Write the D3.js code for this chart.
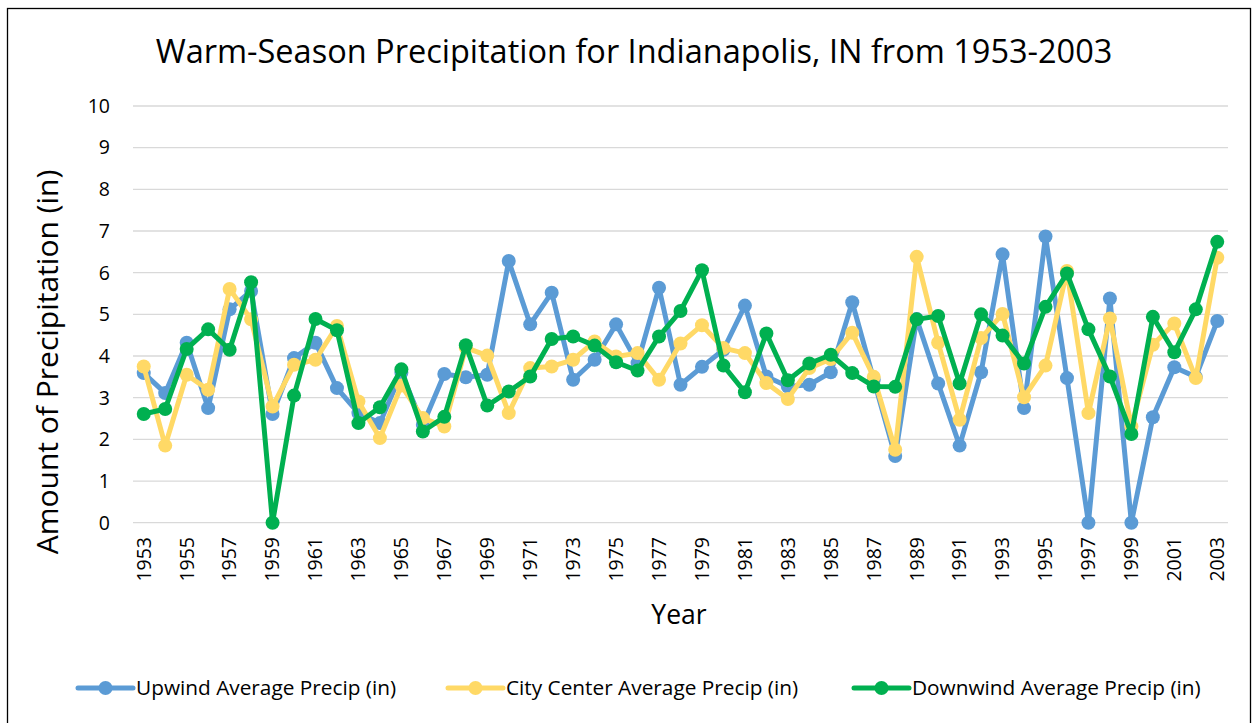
<!DOCTYPE html>
<html>
<head>
<meta charset="utf-8">
<script src="https://cdn.jsdelivr.net/npm/d3@7"></script>
<style>
  body { margin: 0; background: #fff; }
  svg { font-family: "Open Sans", "Noto Sans", sans-serif; }
</style>
</head>
<body>
<svg id="chart" width="1253" height="723"></svg>
<script>
const years = d3.range(1953, 2004);
const upwind = [3.59, 3.11, 4.32, 2.75, 5.12, 5.56, 2.61, 3.95, 4.32, 3.23,
  2.63, 2.39, 3.60, 2.35, 3.57, 3.49, 3.55, 6.28, 4.76, 5.52,
  3.43, 3.91, 4.76, 3.83, 5.64, 3.31, 3.74, 4.15, 5.21, 3.51,
  3.27, 3.31, 3.61, 5.29, 3.43, 1.60, 4.89, 3.34, 1.85, 3.61,
  6.44, 2.75, 6.87, 3.47, 0.00, 5.38, 0.00, 2.53, 3.73, 3.50, 4.84];
const cityCenter = [3.75, 1.85, 3.55, 3.19, 5.61, 4.88, 2.79, 3.79, 3.91, 4.72,
  2.91, 2.03, 3.29, 2.51, 2.31, 4.20, 4.01, 2.63, 3.71, 3.75,
  3.91, 4.35, 3.99, 4.07, 3.43, 4.30, 4.74, 4.19, 4.07, 3.35,
  2.97, 3.71, 3.93, 4.56, 3.50, 1.75, 6.38, 4.32, 2.47, 4.43,
  5.01, 3.01, 3.77, 6.04, 2.63, 4.90, 2.31, 4.27, 4.78, 3.47, 6.36];
const downwind = [2.61, 2.73, 4.17, 4.64, 4.15, 5.77, 0.00, 3.05, 4.89, 4.62,
  2.39, 2.77, 3.68, 2.19, 2.54, 4.26, 2.81, 3.15, 3.51, 4.41,
  4.47, 4.25, 3.85, 3.65, 4.47, 5.08, 6.06, 3.77, 3.13, 4.54,
  3.42, 3.82, 4.03, 3.59, 3.27, 3.26, 4.88, 4.96, 3.34, 5.00,
  4.49, 3.82, 5.18, 5.98, 4.64, 3.51, 2.13, 4.94, 4.09, 5.12, 6.74];
const yTicks = d3.range(0, 11);

const series = [
  { name: "Upwind Average Precip (in)", values: upwind, color: "#5B9BD5" },
  { name: "City Center Average Precip (in)", values: cityCenter, color: "#FFD966" },
  { name: "Downwind Average Precip (in)", values: downwind, color: "#00B050" }
];

const svg = d3.select("#chart");

// outer chart border
svg.append("rect")
  .attr("x", 7.5).attr("y", 8.5)
  .attr("width", 1243).attr("height", 740)
  .attr("fill", "none").attr("stroke", "#000").attr("stroke-width", 1.3);

const plot = { left: 133, right: 1228, top: 106, bottom: 522.7 };

const x = d3.scaleBand().domain(years).range([plot.left, plot.right]);
const y = d3.scaleLinear().domain([0, 10]).range([plot.bottom, plot.top]);
const cx = d => x(d) + x.bandwidth() / 2;

// gridlines
svg.append("g")
  .selectAll("line")
  .data(yTicks)
  .enter().append("line")
  .attr("x1", plot.left).attr("x2", plot.right)
  .attr("y1", d => y(d)).attr("y2", d => y(d))
  .attr("stroke", "#d9d9d9").attr("stroke-width", 1.3);

// y tick labels
svg.append("g")
  .selectAll("text")
  .data(yTicks)
  .enter().append("text")
  .attr("x", 110)
  .attr("y", d => y(d))
  .attr("dy", "0.35em")
  .attr("text-anchor", "end")
  .attr("font-size", 19.5)
  .attr("fill", "#000")
  .text(d => d);

// x tick labels (every other year)
svg.append("g")
  .selectAll("text")
  .data(years.filter((d, i) => i % 2 === 0))
  .enter().append("text")
  .attr("transform", d => `translate(${cx(d)},537) rotate(-90)`)
  .attr("dy", "0.35em")
  .attr("text-anchor", "end")
  .attr("font-size", 19.5)
  .attr("fill", "#000")
  .text(d => d);

// title
svg.append("text")
  .attr("x", 634).attr("y", 63)
  .attr("text-anchor", "middle")
  .attr("font-size", 32.5)
  .attr("fill", "#000")
  .text("Warm-Season Precipitation for Indianapolis, IN from 1953-2003");

// axis titles
svg.append("text")
  .attr("transform", "translate(58,362) rotate(-90)")
  .attr("text-anchor", "middle")
  .attr("font-size", 30)
  .attr("fill", "#000")
  .text("Amount of Precipitation (in)");

svg.append("text")
  .attr("x", 679).attr("y", 624)
  .attr("text-anchor", "middle")
  .attr("font-size", 26.5)
  .attr("fill", "#000")
  .text("Year");

// series lines + markers
const line = d3.line()
  .x((d, i) => cx(years[i]))
  .y(d => y(d));

series.forEach(s => {
  const g = svg.append("g");
  g.append("path")
    .datum(s.values)
    .attr("d", line)
    .attr("fill", "none")
    .attr("stroke", s.color)
    .attr("stroke-width", 5)
    .attr("stroke-linejoin", "round");
  g.selectAll("circle")
    .data(s.values)
    .enter().append("circle")
    .attr("cx", (d, i) => cx(years[i]))
    .attr("cy", d => y(d))
    .attr("r", 7)
    .attr("fill", s.color);
});

// legend
const legendX = [78, 448, 854];
const legend = svg.append("g")
  .selectAll("g")
  .data(series)
  .enter().append("g")
  .attr("transform", (d, i) => `translate(${legendX[i]},688)`);

legend.append("line")
  .attr("x1", 0).attr("x2", 55)
  .attr("stroke", d => d.color)
  .attr("stroke-width", 5)
  .attr("stroke-linecap", "round");
legend.append("circle")
  .attr("cx", 27.5).attr("r", 7)
  .attr("fill", d => d.color);
legend.append("text")
  .attr("x", 58)
  .attr("dy", "0.35em")
  .attr("font-size", 20.8)
  .attr("fill", "#000")
  .text(d => d.name);
</script>
</body>
</html>
